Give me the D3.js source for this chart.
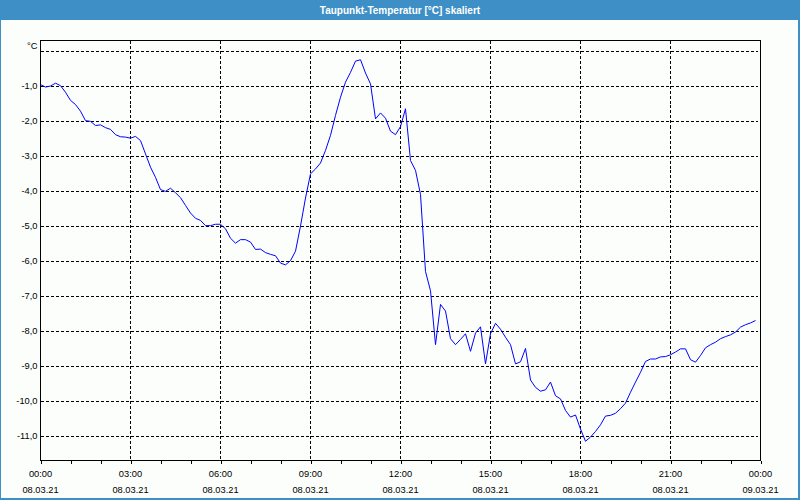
<!DOCTYPE html>
<html>
<head>
<meta charset="utf-8">
<script src="https://cdn.jsdelivr.net/npm/d3@7"></script>
<style>
  body { margin: 0; background: #fcfefc; }
  svg text { font-family: "Liberation Sans", Arial, sans-serif; }
</style>
</head>
<body>
<div class="chart"></div>
<script>
var svgWidth = 800;
var svgHeight = 500;

var margin = {top: 40, right: 40, bottom: 40, left: 40};

var width = svgWidth - margin.left - margin.right;
var height = svgHeight - margin.top - margin.bottom;

// chart data
var chartTitle = 'Taupunkt-Temperatur [°C] skaliert';
var unitLabel = '°C';
var startTime = new Date(2021, 2, 8, 0, 0);
var endTime = new Date(2021, 2, 9, 0, 0);
var stepMinutes = 10;
var dewPoint = [
  -0.96, -1.03, -1.00, -0.92, -0.99, -1.18, -1.41, -1.53, -1.72, -1.99,
  -2.01, -2.13, -2.11, -2.19, -2.24, -2.39, -2.45, -2.46, -2.49, -2.44,
  -2.56, -2.94, -3.32, -3.61, -3.96, -4.01, -3.92, -4.05, -4.19, -4.41,
  -4.63, -4.78, -4.84, -4.99, -4.99, -4.95, -4.95, -5.08, -5.35, -5.49,
  -5.39, -5.39, -5.46, -5.67, -5.66, -5.76, -5.81, -5.85, -6.06, -6.11,
  -5.99, -5.72, -5.00, -4.20, -3.51, -3.37, -3.20, -2.84, -2.41, -1.84,
  -1.32, -0.89, -0.61, -0.29, -0.25, -0.63, -0.94, -1.94, -1.77, -1.92,
  -2.29, -2.39, -2.16, -1.65, -3.13, -3.41, -4.10, -6.30, -6.85, -8.39,
  -7.24, -7.43, -8.22, -8.39, -8.24, -8.08, -8.58, -8.06, -7.88, -8.94,
  -8.08, -7.78, -7.95, -8.18, -8.39, -8.94, -8.88, -8.50, -9.40, -9.61,
  -9.72, -9.68, -9.46, -9.85, -9.94, -10.27, -10.46, -10.40, -10.80, -11.15,
  -11.03, -10.87, -10.68, -10.43, -10.41, -10.35, -10.22, -10.06, -9.75, -9.46,
  -9.18, -8.87, -8.80, -8.80, -8.74, -8.73, -8.68, -8.60, -8.51, -8.51,
  -8.82, -8.89, -8.70, -8.48, -8.39, -8.32, -8.22, -8.16, -8.11, -8.03,
  -7.89, -7.82, -7.77, -7.70
];
var yDomain = [-11.7, 0.3];
var yGridValues = [0, -1, -2, -3, -4, -5, -6, -7, -8, -9, -10, -11];
var yLabelValues = [-1, -2, -3, -4, -5, -6, -7, -8, -9, -10, -11];
var gridEveryHours = 3;

var data = dewPoint.map(function(v, i) {
  return {time: d3.timeMinute.offset(startTime, i * stepMinutes), value: v};
});

var svg = d3
  .select('.chart')
  .append('svg')
  .attr('width', svgWidth)
  .attr('height', svgHeight);

// frame + title bar
svg.append('rect')
  .attr('x', 0).attr('y', 0)
  .attr('width', svgWidth).attr('height', svgHeight)
  .attr('fill', '#fcfefc');
svg.append('rect')
  .attr('x', 0).attr('y', 0)
  .attr('width', svgWidth).attr('height', 20)
  .attr('fill', '#3d8fc6');
svg.append('rect').attr('x', 0).attr('y', 0).attr('width', 1).attr('height', svgHeight).attr('fill', '#3d8fc6');
svg.append('rect').attr('x', svgWidth - 2).attr('y', 0).attr('width', 2).attr('height', svgHeight).attr('fill', '#3d8fc6');
svg.append('rect').attr('x', 0).attr('y', svgHeight - 2).attr('width', svgWidth).attr('height', 2).attr('fill', '#3d8fc6');

svg.append('text')
  .attr('x', svgWidth / 2)
  .attr('y', 10)
  .attr('dy', '0.35em')
  .attr('text-anchor', 'middle')
  .attr('fill', '#ffffff')
  .attr('font-weight', 'bold')
  .attr('font-size', '10px')
  .text(chartTitle);

var chart = svg.append('g')
  .attr('transform', 'translate(' + (margin.left + 0.5) + ',' + (margin.top + 0.5) + ')');

// scales
var xScale = d3.scaleTime().domain([startTime, endTime]).range([0, width]);
var yScale = d3.scaleLinear().domain(yDomain).range([height, 0]);

// grid
var gridTimes = d3.timeHour.every(gridEveryHours).range(d3.timeMinute.offset(startTime, 1), endTime);

chart.append('g')
  .selectAll('line')
  .data(yGridValues)
  .enter()
  .append('line')
  .attr('x1', 0)
  .attr('x2', width - 3)
  .attr('y1', function(d) { return Math.round(yScale(d)); })
  .attr('y2', function(d) { return Math.round(yScale(d)); })
  .attr('stroke', '#000')
  .attr('stroke-dasharray', '3,2')
  .attr('shape-rendering', 'crispEdges');

chart.append('g')
  .selectAll('line')
  .data(gridTimes)
  .enter()
  .append('line')
  .attr('x1', function(d) { return Math.round(xScale(d)); })
  .attr('x2', function(d) { return Math.round(xScale(d)); })
  .attr('y1', 0)
  .attr('y2', height)
  .attr('stroke', '#000')
  .attr('stroke-dasharray', '3,2')
  .attr('shape-rendering', 'crispEdges');

// frame of the plot area
chart.append('rect')
  .attr('x', 0).attr('y', 0)
  .attr('width', width).attr('height', height)
  .attr('fill', 'none')
  .attr('stroke', '#000')
  .attr('shape-rendering', 'crispEdges');

// bottom axis: hourly ticks, labels every 3 hours
var bottomAxis = d3.axisBottom(xScale)
  .ticks(d3.timeHour.every(1))
  .tickSize(3)
  .tickSizeOuter(0)
  .tickFormat('');

var xAxisG = chart.append('g')
  .attr('transform', 'translate(0,' + height + ')')
  .call(bottomAxis);
xAxisG.select('.domain').remove();
xAxisG.selectAll('line').attr('stroke', '#000').attr('shape-rendering', 'crispEdges');

var labelTimes = d3.timeHour.every(gridEveryHours).range(startTime, d3.timeMinute.offset(endTime, 1));
var fmtTime = d3.timeFormat('%H:%M');
var fmtDate = d3.timeFormat('%d.%m.%y');

var xLabels = chart.append('g')
  .selectAll('text')
  .data(labelTimes)
  .enter()
  .append('text')
  .attr('text-anchor', 'middle')
  .attr('font-size', '9.3px')
  .attr('fill', '#000');
xLabels.append('tspan')
  .attr('x', function(d) { return xScale(d); })
  .attr('y', height + 16)
  .text(function(d) { return fmtTime(d); });
xLabels.append('tspan')
  .attr('x', function(d) { return xScale(d); })
  .attr('y', height + 32)
  .text(function(d) { return fmtDate(d); });

// y labels
var fmtY = function(v) { return d3.format('.1f')(v).replace('.', ',').replace('\u2212', '-'); };
chart.append('g')
  .selectAll('text')
  .data(yLabelValues)
  .enter()
  .append('text')
  .attr('x', -3)
  .attr('y', function(d) { return yScale(d); })
  .attr('dy', '0.35em')
  .attr('text-anchor', 'end')
  .attr('font-size', '9.3px')
  .attr('fill', '#000')
  .text(fmtY);

chart.append('text')
  .attr('x', -3)
  .attr('y', 5)
  .attr('dy', '0.35em')
  .attr('text-anchor', 'end')
  .attr('font-size', '9.3px')
  .attr('fill', '#000')
  .text(unitLabel);

// dew point line
var line = d3.line()
  .x(function(d) { return xScale(d.time); })
  .y(function(d) { return yScale(d.value); });

chart.append('path')
  .datum(data)
  .attr('d', line)
  .attr('fill', 'none')
  .attr('stroke', '#0000ff')
  .attr('stroke-width', 1);
</script>
</body>
</html>
